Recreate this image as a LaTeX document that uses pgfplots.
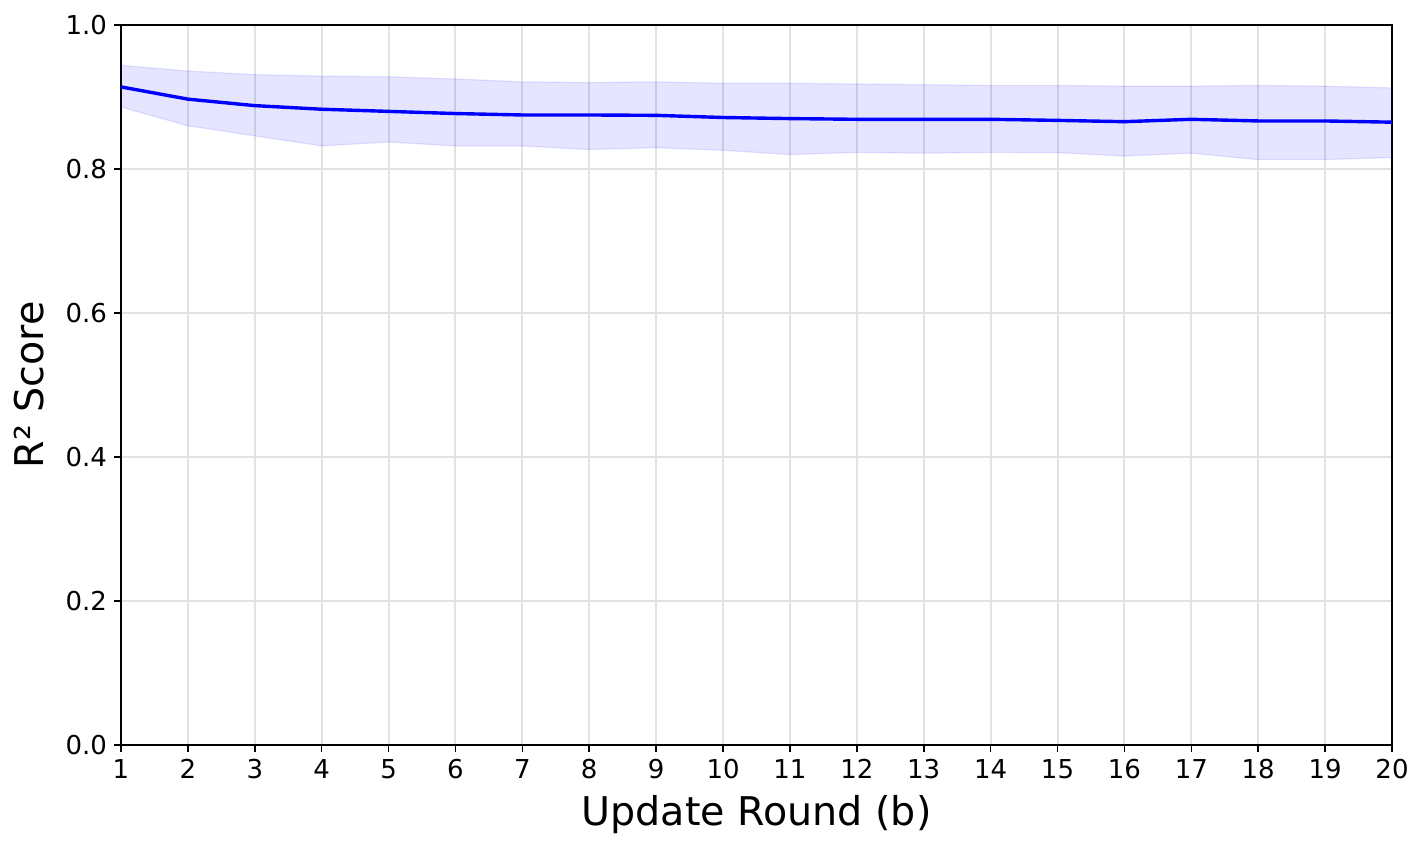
\documentclass[border=0pt]{standalone}
\usepackage{fontspec}
\setmainfont{DejaVu Sans}
\usepackage{pgfplots}
\pgfplotsset{compat=1.18}
\usepgfplotslibrary{fillbetween}
\definecolor{gridgray}{RGB}{226,226,226}

\begin{document}
\begin{tikzpicture}
\begin{axis}[
    scale only axis,
    width=635.5pt, height=360pt,
    xmin=1, xmax=20, ymin=0, ymax=1,
    xtick={1,...,20},
    ytick={0,0.2,0.4,0.6,0.8,1.0},
    /pgf/number format/assume math mode=true,
    yticklabel style={/pgf/number format/fixed, /pgf/number format/fixed zerofill, /pgf/number format/precision=1},
    ticklabel style={font=\fontsize{13}{15}\selectfont},
    tick align=outside,
    xtick pos=bottom, ytick pos=left,
    major tick length=3.5pt,
    every tick/.style={black, line width=0.8pt},
    axis line style={line width=0.8pt},
    grid=major,
    grid style={gridgray, line width=1pt},
    xlabel={Update Round (b)},
    ylabel={R² Score},
    label style={font=\fontsize{19.8}{23}\selectfont},
    xlabel style={yshift=-1.5pt},
    ylabel style={yshift=4pt},
    clip=false,
]
\addplot[name path=up, draw=blue, draw opacity=0.1, line width=0.6pt] coordinates {
(1,0.944) (2,0.936) (3,0.931) (4,0.929) (5,0.928) (6,0.925) (7,0.921) (8,0.920) (9,0.921) (10,0.919)
(11,0.919) (12,0.918) (13,0.917) (14,0.916) (15,0.916) (16,0.915) (17,0.915) (18,0.916) (19,0.915) (20,0.9125)
};
\addplot[name path=lo, draw=blue, draw opacity=0.1, line width=0.6pt] coordinates {
(1,0.886) (2,0.860) (3,0.846) (4,0.832) (5,0.8375) (6,0.832) (7,0.832) (8,0.827) (9,0.8296) (10,0.826)
(11,0.820) (12,0.823) (13,0.822) (14,0.823) (15,0.8227) (16,0.818) (17,0.822) (18,0.813) (19,0.813) (20,0.816)
};
\addplot[blue, fill opacity=0.1, draw=none] fill between[of=up and lo];
\addplot[blue, line width=1.7pt] coordinates {
(1,0.914) (2,0.897) (3,0.888) (4,0.883) (5,0.880) (6,0.877) (7,0.875) (8,0.875) (9,0.8745) (10,0.8715)
(11,0.870) (12,0.869) (13,0.869) (14,0.869) (15,0.8675) (16,0.8657) (17,0.869) (18,0.8667) (19,0.8667) (20,0.865)
};
\end{axis}
\pgfresetboundingbox
\path (-60.5pt,-52pt) rectangle (652pt,372.5pt);
\end{tikzpicture}
\end{document}
